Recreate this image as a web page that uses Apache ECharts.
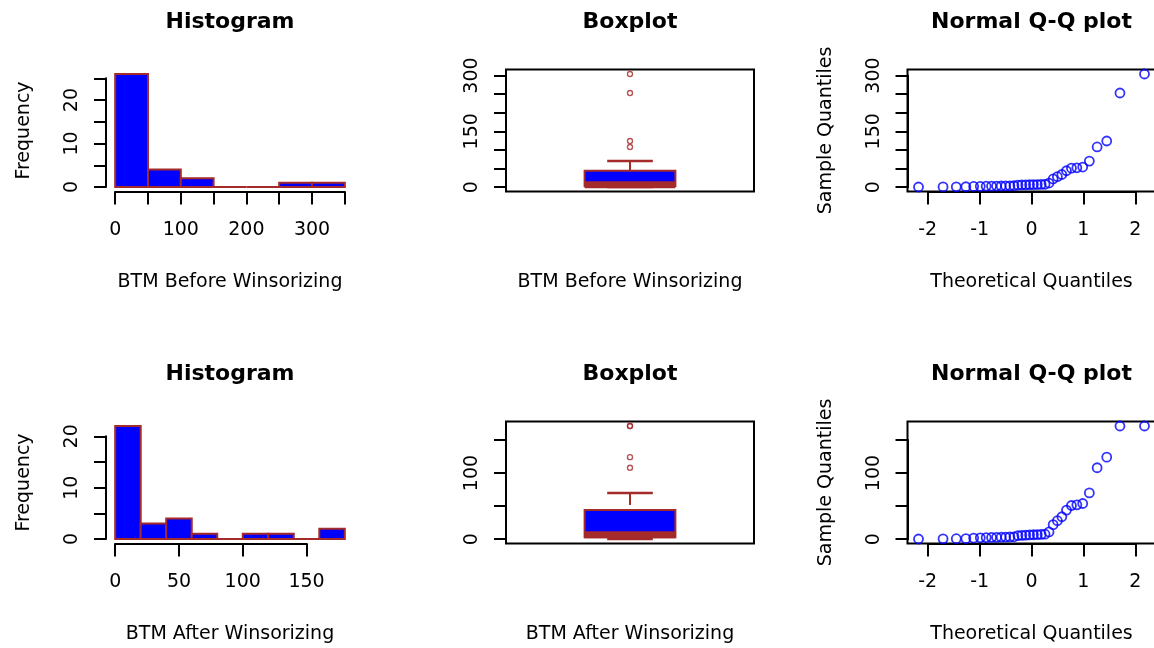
<!DOCTYPE html>
<html>
<head>
<meta charset="utf-8">
<script src="https://cdn.jsdelivr.net/npm/echarts@6.0.0/dist/echarts.min.js"></script>
<style>
  html, body { margin: 0; padding: 0; background: #ffffff; }
  #chart { width: 1154px; height: 648px; }
</style>
</head>
<body>
<div id="chart"></div>
<script>
// ---------------- DATA ----------------
const histBeforeBreaks = [0, 50, 100, 150, 200, 250, 300, 350];
const histBeforeCounts = [26, 4, 2, 0, 0, 1, 1];
const histAfterBreaks = [0, 20, 40, 60, 80, 100, 120, 140, 160, 180];
const histAfterCounts = [22, 3, 4, 1, 0, 1, 1, 0, 2];

// theoretical normal quantiles of the 34 plotting positions
const theoreticalQuantiles = [-2.178, -1.705, -1.450, -1.265, -1.115, -0.987, -0.874, -0.770, -0.674, -0.585,
  -0.499, -0.417, -0.338, -0.261, -0.186, -0.111, -0.037, 0.037, 0.111, 0.186, 0.261, 0.338, 0.417, 0.499,
  0.585, 0.674, 0.770, 0.874, 0.987, 1.115, 1.265, 1.450, 1.705, 2.178];

// sorted sample values
const btmBefore = [0.4, 0.6, 0.8, 1.0, 1.8, 2.2, 2.5, 2.7, 2.9, 3.1, 3.3, 3.5, 3.7, 5.6, 5.9, 6.2, 6.5,
  6.8, 7.0, 7.3, 7.6, 11, 22, 28, 34, 44, 51, 52, 54, 70, 108, 124, 253, 304];
const btmAfter = [0.4, 0.6, 0.8, 1.0, 1.8, 2.2, 2.5, 2.7, 2.9, 3.1, 3.3, 3.5, 3.7, 5.6, 5.9, 6.2, 6.5,
  6.8, 7.0, 7.3, 7.6, 11, 22, 28, 34, 44, 51, 52, 54, 70, 108, 124, 171, 171];

// boxplot stats: [lower whisker, Q1, median, Q3, upper whisker]
const boxBefore = [0.4, 2.9, 6.7, 44, 70];
const outliersBefore = [108, 124, 253, 304];
const boxAfter = [0.4, 2.9, 6.7, 44, 70];
const outliersAfter = [108, 124, 171, 171];

// ticks and tick labels
const histBeforeXTicks = [0, 50, 100, 150, 200, 250, 300, 350];
const histBeforeXLabels = [0, 100, 200, 300];
const histBeforeYTicks = [0, 5, 10, 15, 20, 25];
const histBeforeYLabels = [0, 10, 20];
const histAfterXTicks = [0, 50, 100, 150];
const histAfterXLabels = [0, 50, 100, 150];
const histAfterYTicks = [0, 5, 10, 15, 20];
const histAfterYLabels = [0, 10, 20];
const beforeYTicks = [0, 50, 100, 150, 200, 250, 300];
const beforeYLabels = [0, 150, 300];
const afterYTicks = [0, 50, 100, 150];
const afterYLabels = [0, 100];
const qqXTicks = [-2, -1, 0, 1, 2];
const qqXLabels = [-2, -1, 0, 1, 2];
const qqXLimits = [-2.39, 2.39];

const titles = ['Histogram', 'Boxplot', 'Normal Q-Q plot'];
const xLabelsRow = ['BTM Before Winsorizing', 'BTM After Winsorizing'];

// ---------------- LAYOUT / STYLE ----------------
const COL_LEFT = [106, 506, 907.5];
const ROW_TOP = [69.5, 421.5];
const PW = 248, PH = 122;
const FONT = '"DejaVu Sans", sans-serif';
const BLUE = '#0000FF', BROWN = '#A52A2A';
const BOX_HALF = 0.183, CAP_HALF = 0.092;

const grid = [], xAxis = [], yAxis = [], series = [], graphic = [];

function expand(lo, hi) { const d = (hi - lo) * 0.04; return [lo - d, hi + d]; }
function fmt(labels) {
  return function (v) { return labels.some(l => Math.abs(l - v) < 1e-9) ? String(v) : ''; };
}
function rectOf(row, col) { return { left: COL_LEFT[col], top: ROW_TOP[row], width: PW, height: PH }; }
const nameStyle = { fontFamily: FONT, fontSize: 19, color: '#000' };

function addDataGrid(rect, xr, yr, opts) {
  const gi = grid.length;
  grid.push({ left: rect.left, top: rect.top, width: rect.width, height: rect.height,
    containLabel: false, outerBoundsMode: 'none',
    show: !!opts.frame, borderColor: '#000', borderWidth: 2, backgroundColor: 'transparent' });
  xAxis.push({ gridIndex: gi, type: 'value', min: xr[0], max: xr[1],
    axisLine: { show: false }, axisTick: { show: false }, axisLabel: { show: false }, splitLine: { show: false },
    name: opts.xName || '', nameLocation: 'middle', nameGap: 81, nameTextStyle: nameStyle });
  yAxis.push({ gridIndex: gi, type: 'value', min: yr[0], max: yr[1],
    axisLine: { show: false }, axisTick: { show: false }, axisLabel: { show: false }, splitLine: { show: false },
    name: opts.yName || '', nameLocation: 'middle', nameRotate: 90, nameGap: 72, nameTextStyle: nameStyle });
  return gi;
}

function axisCommon(ticks, labels, rotate, margin, tickLen) {
  return {
    type: 'value', min: ticks[0], max: ticks[ticks.length - 1], interval: ticks[1] - ticks[0],
    axisLine: { show: true, onZero: false, lineStyle: { color: '#000', width: 2 } },
    axisTick: { show: true, length: tickLen, lineStyle: { color: '#000', width: 2 } },
    axisLabel: { show: true, rotate: rotate, margin: margin, fontFamily: FONT, fontSize: 19, color: '#000',
      formatter: fmt(labels) },
    splitLine: { show: false }
  };
}

function addXAxisGrid(rect, xr, ticks, labels) {
  const a = ticks[0], b = ticks[ticks.length - 1];
  const sx = rect.width / (xr[1] - xr[0]);
  const gi = grid.length;
  grid.push({ left: rect.left + (a - xr[0]) * sx, width: (b - a) * sx, top: rect.top, height: rect.height,
    containLabel: false, outerBoundsMode: 'none' });
  xAxis.push(Object.assign({ gridIndex: gi }, axisCommon(ticks, labels, 0, 29.5, 13)));
  yAxis.push({ gridIndex: gi, type: 'value', show: false, min: 0, max: 1 });
}

function addYAxisGrid(rect, yr, ticks, labels) {
  const a = ticks[0], b = ticks[ticks.length - 1];
  const sy = rect.height / (yr[1] - yr[0]);
  const gi = grid.length;
  grid.push({ left: rect.left, width: rect.width, top: rect.top + (yr[1] - b) * sy, height: (b - a) * sy,
    containLabel: false, outerBoundsMode: 'none' });
  xAxis.push({ gridIndex: gi, type: 'value', show: false, min: 0, max: 1 });
  yAxis.push(Object.assign({ gridIndex: gi }, axisCommon(ticks, labels, 90, 24, 12)));
}

function histRender(params, api) {
  const p0 = api.coord([api.value(0), api.value(2)]);
  const p1 = api.coord([api.value(1), 0]);
  return { type: 'rect', shape: { x: p0[0], y: p0[1], width: p1[0] - p0[0], height: p1[1] - p0[1] },
    style: { fill: BLUE, stroke: BROWN, lineWidth: 2 } };
}

function boxRender(params, api) {
  const cx = api.value(0), mn = api.value(1), q1 = api.value(2), md = api.value(3), q3 = api.value(4), mx = api.value(5);
  const c = (x, y) => api.coord([x, y]);
  const line = (a, b, w, dash) => ({ type: 'line',
    shape: { x1: a[0], y1: a[1], x2: b[0], y2: b[1] },
    style: { stroke: BROWN, lineWidth: w, lineDash: dash || null } });
  const tl = c(cx - BOX_HALF, q3), br = c(cx + BOX_HALF, q1);
  return { type: 'group', children: [
    line(c(cx, mx), c(cx, q3), 2, [12, 4]),
    line(c(cx, mn), c(cx, q1), 2, [12, 4]),
    line(c(cx - CAP_HALF, mx), c(cx + CAP_HALF, mx), 2.5),
    line(c(cx - CAP_HALF, mn), c(cx + CAP_HALF, mn), 2.5),
    { type: 'rect', shape: { x: tl[0], y: tl[1], width: br[0] - tl[0], height: br[1] - tl[1] },
      style: { fill: BLUE, stroke: BROWN, lineWidth: 2 } },
    line(c(cx - BOX_HALF, md), c(cx + BOX_HALF, md), 7)
  ] };
}

function buildRow(row, breaks, counts, hxTicks, hxLabels, hyTicks, hyLabels,
                  box, outliers, sample, yTicks, yLabels) {
  const xName = xLabelsRow[row];
  // ---- histogram ----
  let r = rectOf(row, 0);
  const hxr = expand(breaks[0], breaks[breaks.length - 1]);
  const hyr = expand(0, Math.max.apply(null, counts));
  let gi = addDataGrid(r, hxr, hyr, { xName: xName, yName: 'Frequency' });
  series.push({ type: 'custom', xAxisIndex: gi, yAxisIndex: gi, renderItem: histRender, clip: false, silent: true,
    encode: { x: [0, 1], y: 2 },
    data: counts.map((cnt, i) => [breaks[i], breaks[i + 1], cnt]) });
  addXAxisGrid(r, hxr, hxTicks, hxLabels);
  addYAxisGrid(r, hyr, hyTicks, hyLabels);

  // ---- boxplot ----
  r = rectOf(row, 1);
  const all = box.concat(outliers);
  const byr = expand(Math.min.apply(null, all), Math.max.apply(null, all));
  gi = addDataGrid(r, [0.5, 1.5], byr, { xName: xName, frame: true });
  series.push({ type: 'custom', xAxisIndex: gi, yAxisIndex: gi, renderItem: boxRender, clip: false, silent: true,
    encode: { x: 0, y: [1, 2, 3, 4, 5] }, data: [[1].concat(box)] });
  series.push({ type: 'scatter', xAxisIndex: gi, yAxisIndex: gi, symbol: 'circle', symbolSize: 5, silent: true,
    itemStyle: { color: 'transparent', borderColor: BROWN, borderWidth: 1.4 },
    data: outliers.map(v => [1, v]) });
  addYAxisGrid(r, byr, yTicks, yLabels);

  // ---- QQ plot ----
  r = rectOf(row, 2);
  const qyr = expand(Math.min.apply(null, sample), Math.max.apply(null, sample));
  gi = addDataGrid(r, qqXLimits, qyr, { xName: 'Theoretical Quantiles', yName: 'Sample Quantiles', frame: true });
  series.push({ type: 'scatter', xAxisIndex: gi, yAxisIndex: gi, symbol: 'circle', symbolSize: 9, silent: true,
    clip: false,
    itemStyle: { color: 'transparent', borderColor: BLUE, borderWidth: 1.8 },
    data: sample.map((v, i) => [theoreticalQuantiles[i], v]) });
  addXAxisGrid(r, qqXLimits, qqXTicks, qqXLabels);
  addYAxisGrid(r, qyr, yTicks, yLabels);

  // ---- titles ----
  for (let c = 0; c < 3; c++) {
    graphic.push({ type: 'text', x: COL_LEFT[c] + PW / 2, y: ROW_TOP[row] - 47.5, silent: true,
      style: { text: titles[c], font: 'bold 22px "DejaVu Sans", sans-serif', fill: '#000',
        align: 'center', verticalAlign: 'middle', textAlign: 'center', textVerticalAlign: 'middle' } });
  }
}

buildRow(0, histBeforeBreaks, histBeforeCounts, histBeforeXTicks, histBeforeXLabels, histBeforeYTicks, histBeforeYLabels,
  boxBefore, outliersBefore, btmBefore, beforeYTicks, beforeYLabels);
buildRow(1, histAfterBreaks, histAfterCounts, histAfterXTicks, histAfterXLabels, histAfterYTicks, histAfterYLabels,
  boxAfter, outliersAfter, btmAfter, afterYTicks, afterYLabels);

const chart = echarts.init(document.getElementById('chart'), null, { renderer: 'canvas' });
chart.setOption({
  animation: false,
  backgroundColor: '#ffffff',
  textStyle: { fontFamily: FONT },
  grid: grid, xAxis: xAxis, yAxis: yAxis, series: series, graphic: graphic
});
</script>
</body>
</html>
